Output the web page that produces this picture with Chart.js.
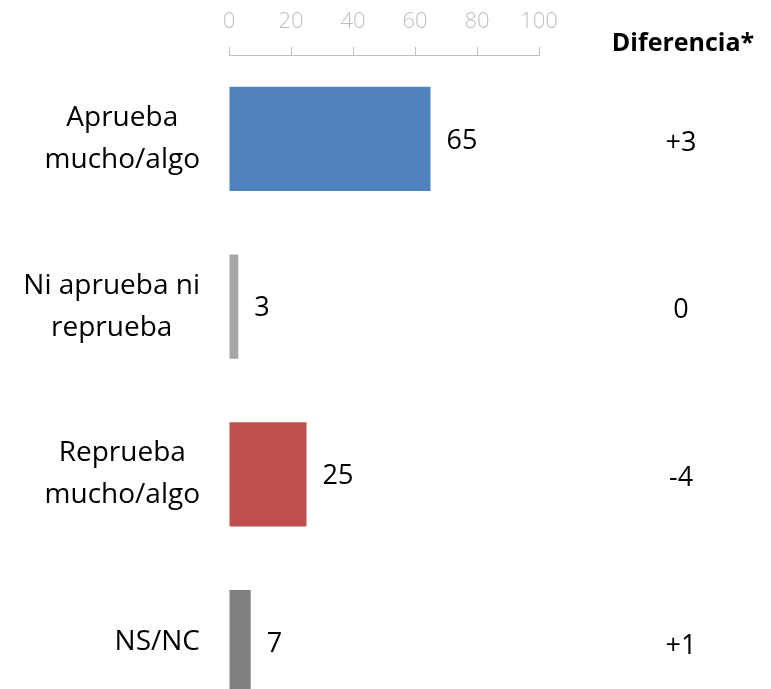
<!DOCTYPE html>
<html>
<head>
<meta charset="utf-8">
<script src="https://cdn.jsdelivr.net/npm/chart.js@4"></script>
<style>
  html, body { margin: 0; padding: 0; background: #fff; overflow: hidden; }
  canvas { display: block; }
</style>
</head>
<body>
<canvas id="chart" width="771" height="726"></canvas>
<script>
const categories = [
    ['Aprueba', 'mucho/algo'],
    ['Ni aprueba ni', 'reprueba'],
    ['Reprueba', 'mucho/algo'],
    ['NS/NC'],
];
const values = [65, 3, 25, 7];
const barColors = ['#4F81BD', '#A6A6A6', '#C0504D', '#808080'];
const diferencias = ['+3', '0', '-4', '+1'];
const diffTitle = 'Diferencia*';

const FONT = '"Open Sans", "DejaVu Sans", sans-serif';

// category labels: block right-aligned, each line centered inside the block
const sideTextPlugin = {
    id: 'sideText',
    afterDraw(chart) {
        const ctx = chart.ctx;
        const y = chart.scales.y;
        const x = chart.scales.x;
        ctx.save();
        ctx.fillStyle = '#000';
        ctx.textBaseline = 'middle';
        ctx.font = '28px ' + FONT;
        const lineH = 42;
        categories.forEach((lines, i) => {
            const cy = y.getPixelForValue(i);
            const w = Math.max(...lines.map((l) => ctx.measureText(l).width));
            const cx = 200 - w / 2;
            ctx.textAlign = 'center';
            lines.forEach((l, k) => {
                ctx.fillText(l, cx, cy + (k - (lines.length - 1) / 2) * lineH);
            });
            // value label next to the bar
            ctx.font = '27px ' + FONT;
            ctx.textAlign = 'left';
            ctx.fillText(String(values[i]), x.getPixelForValue(values[i]) + 16, cy + 2);
            // diferencia column
            ctx.textAlign = 'center';
            ctx.fillText(diferencias[i], 681, cy + 4);
            ctx.font = '28px ' + FONT;
        });
        ctx.font = 'bold 25px ' + FONT;
        ctx.fillText(diffTitle, 683, 44);
        ctx.restore();
    },
};

new Chart(document.getElementById('chart'), {
    type: 'bar',
    data: {
        labels: categories,
        datasets: [
            {
                data: values,
                backgroundColor: barColors,
                barPercentage: 1,
                categoryPercentage: 0.62,
            },
        ],
    },
    options: {
        indexAxis: 'y',
        responsive: false,
        animation: false,
        layout: { padding: { left: 229, right: 232, top: 0, bottom: 0 } },
        plugins: {
            legend: { display: false },
            tooltip: { enabled: false },
        },
        scales: {
            x: {
                position: 'top',
                min: 0,
                max: 100,
                afterFit(scale) {
                    scale.height = 55;
                },
                ticks: {
                    stepSize: 20,
                    color: '#BFBFBF',
                    font: { family: FONT, size: 22, weight: '300', lineHeight: 1 },
                    padding: 14,
                },
                grid: {
                    drawOnChartArea: false,
                    drawTicks: true,
                    tickLength: 8,
                    color: '#BFBFBF',
                },
                border: { display: true, color: '#BFBFBF' },
            },
            y: {
                display: false,
            },
        },
    },
    plugins: [sideTextPlugin],
});
</script>
</body>
</html>
